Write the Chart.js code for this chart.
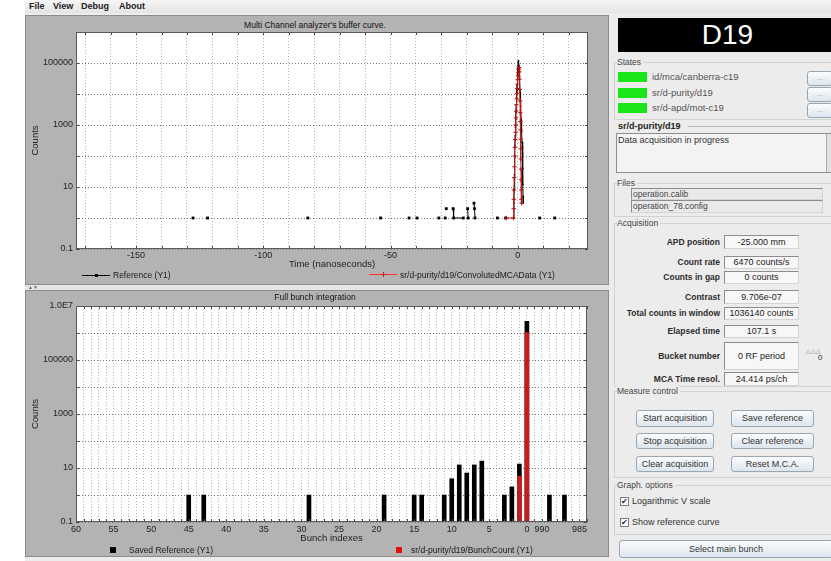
<!DOCTYPE html>
<html>
<head>
<meta charset="utf-8">
<title>D19 bunch purity</title>
<script src="https://cdn.jsdelivr.net/npm/chart.js@4.4.1/dist/chart.umd.min.js"></script>
<style>
  html, body { margin: 0; padding: 0; }
  body {
    width: 831px; height: 561px; position: relative; overflow: hidden;
    background: #ffffff;
    font-family: "Liberation Sans", Arial, sans-serif; font-size: 9px; color: #2a2a2a;
  }
  .a { position: absolute; white-space: nowrap; }
  #win { left: 25px; top: 0; width: 806px; height: 561px; background: #ececec; }
  #menu { left: 25px; top: 0; width: 806px; height: 13px; background: linear-gradient(#f6f6f6, #e4e4e4); }
  .menu { top: 0; line-height: 12px; font-weight: bold; font-size: 9px; color: #222; }
  .panel { background: #b3b3b3; border: 1px solid #8c8c8c; box-sizing: border-box; }
  .ptitle { text-align: center; font-size: 8.5px; line-height: 10px; color: #111; }
  .leg { font-size: 8.5px; line-height: 10px; color: #1a1a1a; }
  .grp { border: 1px solid #d2d2d2; border-right: none; box-sizing: border-box; }
  .glab { background: #ececec; padding-right: 2px; font-size: 8.5px; line-height: 10px; color: #444; }
  .lab { text-align: right; font-size: 8.5px; line-height: 12px; font-weight: bold; color: #2c2c2c; }
  .fld { box-sizing: border-box; background: #f7f7f7; border: 1px solid; border-color: #8d8d8d #d4d4d4 #d4d4d4 #8d8d8d;
         text-align: center; font-size: 9px; color: #222; }
  .btn { box-sizing: border-box; border: 1px solid #9aa6b2; border-radius: 3px;
         background: linear-gradient(#fbfcfe, #dde5ed); text-align: center; font-size: 9px; color: #333; }
  .led { background: #19e619; }
  .dev { font-size: 9.5px; line-height: 11px; color: #555; }
  .chk { box-sizing: border-box; width: 9px; height: 9px; border: 1px solid #7c7c7c; background: #fafafa;
         font-size: 8px; line-height: 8px; text-align: center; color: #1d2a4a; }
  canvas { position: absolute; }
</style>
</head>
<body>
<div id="win" class="a"></div>
<div id="menu" class="a"></div>
<div class="a menu" style="left:29px">File</div>
<div class="a menu" style="left:53px">View</div>
<div class="a menu" style="left:81px">Debug</div>
<div class="a menu" style="left:119px">About</div>

<!-- buffer curve panel -->
<div class="a panel" style="left:25px;top:15px;width:584px;height:270px"></div>
<div class="a ptitle" style="left:25px;top:20px;width:580px">Multi Channel analyzer's buffer curve.</div>
<canvas id="mcaChart" width="585" height="270" style="left:25px;top:15px"></canvas>
<div class="a" style="left:82px;top:275px;width:28px;height:1px;background:#000"></div>
<div class="a" style="left:95px;top:274px;width:3px;height:3px;background:#000"></div>
<div class="a leg" style="left:113px;top:270px">Reference (Y1)</div>
<div class="a" style="left:369px;top:274px;width:28px;height:0;border-top:1px solid #ff3030"></div>
<div class="a" style="left:381px;top:274px;width:5px;height:0;border-top:1px solid #d01818"></div>
<div class="a" style="left:383px;top:272px;width:0;height:5px;border-left:1px solid #d01818"></div>
<div class="a leg" style="left:400px;top:270px">sr/d-purity/d19/ConvolutedMCAData (Y1)</div>

<!-- split divider -->
<div class="a" style="left:25px;top:285px;width:585px;height:5px;background:#e6e6e6"></div>
<div class="a" style="left:28px;top:284px;font-size:5px;line-height:6px;color:#666">▲▼</div>

<!-- bunch integration panel -->
<div class="a panel" style="left:25px;top:290px;width:584px;height:267px"></div>
<div class="a ptitle" style="left:25px;top:292px;width:580px">Full bunch integration</div>
<canvas id="bunchChart" width="585" height="266" style="left:25px;top:290px"></canvas>
<div class="a" style="left:110px;top:547px;width:6px;height:6px;background:#000"></div>
<div class="a leg" style="left:129px;top:545px">Saved Reference (Y1)</div>
<div class="a" style="left:396px;top:547px;width:6px;height:6px;background:#e01010"></div>
<div class="a leg" style="left:411px;top:545px">sr/d-purity/d19/BunchCount (Y1)</div>

<!-- control side panel -->
<div class="a" style="left:618px;top:18px;width:213px;height:34px;background:#000;color:#fff;font-size:28px;line-height:34px;text-align:center;padding-left:6px;box-sizing:border-box">D19</div>

<div class="a grp" style="left:614px;top:62px;width:217px;height:58px"></div>
<div class="a glab" style="left:617px;top:57px">States</div>
<div class="a led" style="left:618px;top:72px;width:29px;height:10px"></div>
<div class="a led" style="left:618px;top:88px;width:29px;height:10px"></div>
<div class="a led" style="left:618px;top:103px;width:29px;height:10px"></div>
<div class="a dev" style="left:652px;top:71px">id/mca/canberra-c19</div>
<div class="a dev" style="left:652px;top:87px">sr/d-purity/d19</div>
<div class="a dev" style="left:652px;top:102px">sr/d-apd/mot-c19</div>
<div class="a btn" style="left:807px;top:71px;width:26px;height:15px;font-size:7px;line-height:11px;color:#888">...</div>
<div class="a btn" style="left:807px;top:87px;width:26px;height:15px;font-size:7px;line-height:11px;color:#888">...</div>
<div class="a btn" style="left:807px;top:103px;width:26px;height:15px;font-size:7px;line-height:11px;color:#888">...</div>

<div class="a" style="left:688px;top:126px;width:143px;height:1px;background:#b8b8b8"></div>
<div class="a" style="left:618px;top:121px;font-weight:bold;font-size:9px;line-height:10px;color:#222">sr/d-purity/d19</div>
<div class="a" style="left:616px;top:133px;width:215px;height:40px;box-sizing:border-box;border:1px solid #8e8e8e;background:#f3f3f3"></div>
<div class="a" style="left:618px;top:135px;font-size:9px;line-height:10px;color:#333">Data acquisition in progress</div>
<div class="a" style="left:826px;top:134px;width:5px;height:38px;background:#e0e0e0;border-left:1px solid #aaa"></div>

<div class="a grp" style="left:614px;top:183px;width:217px;height:34px"></div>
<div class="a glab" style="left:617px;top:178px">Files</div>
<div class="a fld" style="left:631px;top:188px;width:192px;height:12px;text-align:left;padding-left:1px;font-size:8.5px;line-height:10px;background:#e9e9e9;color:#444">operation.calib</div>
<div class="a fld" style="left:631px;top:200px;width:192px;height:13px;text-align:left;padding-left:1px;font-size:8.5px;line-height:11px;background:#e9e9e9;color:#444">operation_78.config</div>

<div class="a grp" style="left:614px;top:223px;width:217px;height:164px"></div>
<div class="a glab" style="left:617px;top:218px">Acquisition</div>
<div class="a lab" style="left:614px;top:236px;width:106px">APD position</div>
<div class="a fld" style="left:724px;top:235px;width:75px;height:14px;line-height:12px">-25.000 mm</div>
<div class="a lab" style="left:614px;top:256px;width:106px">Count rate</div>
<div class="a fld" style="left:724px;top:256px;width:75px;height:13px;line-height:11px">6470 counts/s</div>
<div class="a lab" style="left:614px;top:271px;width:106px">Counts in gap</div>
<div class="a fld" style="left:724px;top:271px;width:75px;height:13px;line-height:11px">0 counts</div>
<div class="a lab" style="left:614px;top:291px;width:106px">Contrast</div>
<div class="a fld" style="left:724px;top:290px;width:75px;height:14px;line-height:12px">9.706e-07</div>
<div class="a lab" style="left:614px;top:307px;width:106px">Total counts in window</div>
<div class="a fld" style="left:724px;top:307px;width:75px;height:13px;line-height:11px">1036140 counts</div>
<div class="a lab" style="left:614px;top:325px;width:106px">Elapsed time</div>
<div class="a fld" style="left:724px;top:325px;width:75px;height:13px;line-height:11px">107.1 s</div>
<div class="a lab" style="left:614px;top:350px;width:106px">Bucket number</div>
<div class="a fld" style="left:724px;top:342px;width:75px;height:28px;line-height:26px">0 RF period</div>
<div class="a lab" style="left:614px;top:373px;width:106px">MCA Time resol.</div>
<div class="a fld" style="left:724px;top:372px;width:75px;height:14px;line-height:12px">24.414 ps/ch</div>
<div class="a" style="left:806px;top:348px;font-size:6px;line-height:6px;color:#777">△△△</div>
<div class="a" style="left:818px;top:353px;font-size:8px;line-height:9px;color:#333">0</div>

<div class="a grp" style="left:614px;top:391px;width:217px;height:87px"></div>
<div class="a glab" style="left:617px;top:386px">Measure control</div>
<div class="a btn" style="left:636px;top:410px;width:78px;height:17px;line-height:15px">Start acquisition</div>
<div class="a btn" style="left:731px;top:410px;width:83px;height:17px;line-height:15px">Save reference</div>
<div class="a btn" style="left:636px;top:433px;width:78px;height:16px;line-height:14px">Stop acquisition</div>
<div class="a btn" style="left:731px;top:433px;width:83px;height:16px;line-height:14px">Clear reference</div>
<div class="a btn" style="left:636px;top:456px;width:78px;height:16px;line-height:14px">Clear acquisition</div>
<div class="a btn" style="left:731px;top:456px;width:83px;height:16px;line-height:14px">Reset M.C.A.</div>

<div class="a grp" style="left:614px;top:485px;width:217px;height:50px"></div>
<div class="a glab" style="left:617px;top:480px">Graph. options</div>
<div class="a chk" style="left:620px;top:497px">✔</div>
<div class="a" style="left:632px;top:496px;font-size:9px;line-height:11px;color:#333">Logarithmic V scale</div>
<div class="a chk" style="left:620px;top:518px">✔</div>
<div class="a" style="left:632px;top:517px;font-size:9px;line-height:11px;color:#333">Show reference curve</div>
<div class="a btn" style="left:619px;top:540px;width:214px;height:18px;line-height:16px">Select main bunch</div>

<script>
// ---- Multi channel analyser buffer curve (time in ns, counts) ----
// null entries break the curve where channels are empty
const refTimes = [
  -127.6, null, -121.9, null, -82.5, null, -53.9, null, -42.7, null, -39.6, null, -31.0, null,
  -28.5, null, -28.1, null, -25.4, -25.2, -21.4, null, -19.7, -19.5, null, -17.2, -17.0, -16.8, null,
  -8.0, null, -4.8, null,
  -1.6, -1.5, -1.4, -1.3, -1.2, -1.1, -1.0, -0.9, -0.8, -0.7, -0.6, -0.5, -0.4, -0.3, -0.2, -0.1,
  0.0, 0.1, 0.2, 0.3, 0.5, 0.7, 0.9, 1.1, 1.3, 1.5, 1.7, 1.8, 1.9, 2.0, 2.05, 2.1, 2.15, null,
  8.6, null, 14.5
];
const refCounts = [
  1, null, 1, null, 1, null, 1, null, 1, null, 1, null, 1, null,
  1, null, 2, null, 2, 1, 1, null, 2, 1, null, 3, 2, 1, null,
  1, null, 1, null,
  1, 3, 8, 25, 90, 220, 450, 850, 1500, 2600, 4500, 7500, 12000, 19000, 29000, 43000,
  62000, 85000, 105000, 118000, 80000, 35000, 12000, 4000, 1500, 600, 280, 180, 120, 40, 12, 5, 3, null,
  1, null, 1
];
const mcaTimes = [
  -4.5, -1.7, -1.6, -1.55, -1.5, -1.4, -1.3, -1.2, -1.1, -1.0, -0.9, -0.8, -0.7, -0.6, -0.5, -0.4,
  -0.3, -0.2, -0.1, 0.0, 0.1, 0.2, 0.3, 0.4, 0.5, 0.6, 0.7, 0.8, 0.9, 1.0, 1.05, 1.1, 1.15, 1.2,
  1.25, 1.3, 1.35, 1.4, 1.45, 1.5
];
const mcaCounts = [
  1, 1, 2, 4, 8, 20, 45, 100, 190, 340, 580, 1000, 1700, 2800, 4500, 7000,
  10500, 15000, 21000, 29000, 39000, 50000, 62000, 72000, 70000, 52000, 30000, 14000, 6000, 2500, 1300, 700, 350, 170,
  80, 38, 17, 8, 4, 3
];
const timeTickLabels = [-150, -100, -50, 0];
const mcaDecades = [0.1, 1, 10, 100, 1000, 10000, 100000, 1000000];
const mcaDecadeLabels = ['0.1', '', '10', '', '1000', '', '100000', ''];

// ---- Full bunch integration (bunch index, integrated counts) ----
const RING_BUNCHES = 992;
const refBunches = [45, 43, 29, 19, 15, 14, 11, 10, 9, 8, 7, 6, 3, 2, 1, 0, 989, 987];
const refBunchCounts = [1, 1, 1, 1, 1, 1, 1, 4, 13, 6.5, 13, 18, 1, 2, 14, 2700000, 1, 1];
const liveBunches = [1, 0];
const liveBunchCounts = [5, 1036140];
const bunchTickLabels = [60, 55, 50, 45, 40, 35, 30, 25, 20, 15, 10, 5, 0, 990, 985];
const bunchDecades = [0.1, 1, 10, 100, 1000, 10000, 100000, 1000000, 10000000];
const bunchDecadeLabels = ['0.1', '', '10', '', '1000', '', '100000', '', '1.0E7'];

const FONT = '"Liberation Sans", Arial, sans-serif';
const RED = '#c81c1c';

// bunch index -> signed distance from the main bunch (wraps around the ring)
const bunchOffset = b => (b > RING_BUNCHES / 2 ? b - RING_BUNCHES : b);
const offsetToBunch = o => (o < 0 ? o + RING_BUNCHES : o);

// white plot area, dark frame and inward tick marks
const plotFrame = {
  id: 'plotFrame',
  beforeDraw(chart) {
    const { ctx, chartArea: a } = chart;
    ctx.save();
    ctx.fillStyle = '#ffffff';
    ctx.fillRect(a.left, a.top, a.right - a.left, a.bottom - a.top);
    ctx.restore();
  },
  afterDraw(chart) {
    const { ctx, chartArea: a, scales } = chart;
    ctx.save();
    ctx.strokeStyle = '#4a4a4a';
    ctx.lineWidth = 1;
    ctx.beginPath();
    scales.x.ticks.forEach(t => {
      const px = Math.round(scales.x.getPixelForValue(t.value)) + 0.5;
      ctx.moveTo(px, a.bottom); ctx.lineTo(px, a.bottom - 3);
      ctx.moveTo(px, a.top); ctx.lineTo(px, a.top + 3);
    });
    scales.y.ticks.forEach(t => {
      const py = Math.round(scales.y.getPixelForValue(t.value)) + 0.5;
      ctx.moveTo(a.left, py); ctx.lineTo(a.left + 3, py);
      ctx.moveTo(a.right, py); ctx.lineTo(a.right - 3, py);
    });
    ctx.stroke();
    ctx.strokeStyle = '#5a5a5a';
    ctx.strokeRect(Math.round(a.left) + 0.5, Math.round(a.top) + 0.5,
                   Math.round(a.right - a.left) - 1, Math.round(a.bottom - a.top) - 1);
    ctx.restore();
  }
};

function logAxis(decades, labels, min, max) {
  return {
    type: 'logarithmic', min, max,
    afterFit: s => { s.width = 51; },
    afterBuildTicks: s => { s.ticks = decades.map(v => ({ value: v })); },
    ticks: {
      autoSkip: false, padding: 3, color: '#222',
      font: { family: FONT, size: 9 },
      callback: v => { const i = decades.indexOf(v); return i >= 0 ? labels[i] : ''; }
    },
    grid: { color: '#7a7a7a', drawTicks: false },
    border: { display: false, dash: [1, 2] },
    title: { display: true, text: 'Counts', color: '#222', font: { family: FONT, size: 9.5 }, padding: { top: 5, bottom: 0 } }
  };
}

const common = {
  responsive: false, animation: false, devicePixelRatio: 1, events: [],
  plugins: { legend: { display: false }, tooltip: { enabled: false }, title: { display: false } }
};

// ---------- buffer curve ----------
new Chart(document.getElementById('mcaChart'), {
  type: 'line',
  data: {
    datasets: [
      {
        label: 'sr/d-purity/d19/ConvolutedMCAData (Y1)',
        data: mcaTimes.map((t, i) => ({ x: t, y: mcaCounts[i] })),
        borderColor: RED, borderWidth: 1, backgroundColor: RED,
        pointStyle: 'cross', pointRadius: 2.2, pointBorderColor: '#b01414', pointBorderWidth: 1,
        tension: 0, spanGaps: false
      },
      {
        label: 'Reference (Y1)',
        data: refTimes.map((t, i) => ({ x: t, y: refCounts[i] })),
        borderColor: '#000', borderWidth: 1, backgroundColor: '#000',
        pointStyle: 'rect', pointBorderWidth: 0,
        // smaller markers inside the dense main peak, bigger isolated dots elsewhere
        pointRadius: c => (c.raw && c.raw.x !== null && Math.abs(c.raw.x) < 3 ? 1.1 : 2),
        tension: 0, spanGaps: false
      }
    ]
  },
  options: Object.assign({}, common, {
    layout: { padding: { top: 17, right: 22, left: 0, bottom: 0 } },
    scales: {
      x: {
        type: 'linear', min: -173.6, max: 27.6,
        afterFit: s => { s.height = 36; },
        afterBuildTicks: s => {
          const t = [];
          for (let v = -170; v <= 20; v += 10) t.push({ value: v });
          s.ticks = t;
        },
        ticks: {
          autoSkip: false, maxRotation: 0, padding: 1, color: '#222',
          font: { family: FONT, size: 9 },
          callback: v => (timeTickLabels.includes(v) ? String(v) : '')
        },
        grid: { color: '#b4b4b4', drawTicks: false },
        border: { display: false, dash: [1, 2] },
        title: { display: true, text: 'Time (nanoseconds)', color: '#222', font: { family: FONT, size: 9.5 }, padding: { top: 0, bottom: 15 } }
      },
      y: logAxis(mcaDecades, mcaDecadeLabels, 0.1, 1000000)
    }
  }),
  plugins: [plotFrame]
});

// ---------- bunch integration ----------
new Chart(document.getElementById('bunchChart'), {
  type: 'bar',
  data: {
    datasets: [
      {
        label: 'sr/d-purity/d19/BunchCount (Y1)',
        data: liveBunches.map((b, i) => ({ x: bunchOffset(b), y: liveBunchCounts[i] })),
        backgroundColor: RED, borderWidth: 0, barThickness: 4, grouped: false
      },
      {
        label: 'Saved Reference (Y1)',
        data: refBunches.map((b, i) => ({ x: bunchOffset(b), y: refBunchCounts[i] })),
        backgroundColor: '#000', borderWidth: 0, barThickness: 4, grouped: false
      }
    ]
  },
  options: Object.assign({}, common, {
    layout: { padding: { top: 16, right: 23, left: 0, bottom: 0 } },
    scales: {
      x: {
        type: 'linear', min: -8, max: 60, reverse: true, offset: false,
        afterFit: s => { s.height = 34; },
        afterBuildTicks: s => {
          const t = [];
          for (let v = 60; v >= -8; v--) t.push({ value: v });
          s.ticks = t;
        },
        ticks: {
          autoSkip: false, maxRotation: 0, padding: 2, color: '#222',
          font: { family: FONT, size: 9 },
          callback: v => (bunchTickLabels.includes(offsetToBunch(v)) ? String(offsetToBunch(v)) : '')
        },
        grid: { color: '#b4b4b4', drawTicks: false, offset: false },
        border: { display: false, dash: [1, 2] },
        title: { display: true, text: 'Bunch indexes', color: '#222', font: { family: FONT, size: 9.5 }, padding: { top: 0, bottom: 12 } }
      },
      y: logAxis(bunchDecades, bunchDecadeLabels, 0.1, 10000000)
    }
  }),
  plugins: [plotFrame]
});
</script>
</body>
</html>
